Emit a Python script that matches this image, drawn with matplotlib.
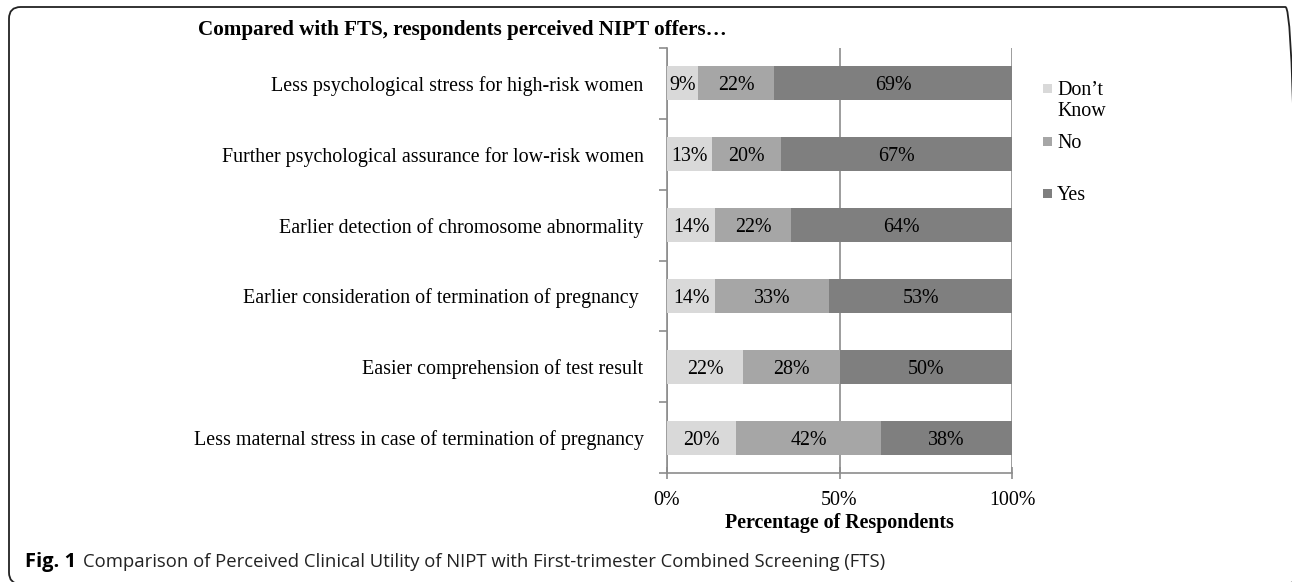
import matplotlib.pyplot as plt
from matplotlib.patches import FancyBboxPatch, Rectangle
import numpy as np

# datos (de arriba hacia abajo)
categorias = [
    "Less psychological stress for high-risk women",
    "Further psychological assurance for low-risk women",
    "Earlier detection of chromosome abnormality",
    "Earlier consideration of termination of pregnancy ",
    "Easier comprehension of test result",
    "Less maternal stress in case of termination of pregnancy",
]
no_sabe = [9, 13, 14, 14, 22, 20]
no = [22, 20, 22, 33, 28, 42]
si = [69, 67, 64, 53, 50, 38]

series = ["Don\u2019t\nKnow", "No", "Yes"]
colores = ["#d9d9d9", "#a6a6a6", "#7f7f7f"]

plt.rcParams['font.family'] = ['Liberation Serif', 'DejaVu Serif']
fs = 14.4
W, H = 1292, 582

fig = plt.figure(figsize=(12.92, 5.82), dpi=100)
ax = fig.add_axes([667/W, 1-473/H, 345/W, 425/H])

y = np.arange(len(categorias))
izq = np.zeros(len(categorias))
for vals, nombre, c in zip([no_sabe, no, si], series, colores):
    vals = np.array(vals)
    ax.barh(y, vals, left=izq, height=0.48, color=c, zorder=3)
    for yi, l, v in zip(y, izq, vals):
        ax.text(l + v/2, yi, f"{v}%", ha='center', va='center_baseline', fontsize=fs, color='black', zorder=4)
    izq = izq + vals

ax.set_ylim(len(categorias) - 0.5, -0.5)
ax.set_xlim(0, 100)
ax.set_yticks(y)
ax.set_yticklabels(categorias, fontsize=fs)
ax.set_yticks(np.arange(-0.5, len(categorias), 1), minor=True)
ax.tick_params(axis='y', which='major', length=0, pad=17)
ax.tick_params(axis='y', which='minor', length=6, color='#8c8c8c', width=1.2)
ax.set_xticks([0, 50, 100])
ax.set_xticklabels(["0%", "50%", "100%"], fontsize=fs)
ax.tick_params(axis='x', length=8, direction='inout', color='#8c8c8c', width=1.2, pad=9)
ax.grid(axis='x', color='#8c8c8c', linewidth=1.2, zorder=0)
for s in ['top', 'right']:
    ax.spines[s].set_visible(False)
for s in ['left', 'bottom']:
    ax.spines[s].set_color('#8c8c8c')
    ax.spines[s].set_linewidth(1.2)
ax.set_xlabel("Percentage of Respondents", fontsize=fs, fontweight='bold', labelpad=2)

# leyenda
pos_leyenda = [88, 141, 193]
for nombre, c, py in zip(series, colores, pos_leyenda):
    fig.patches.append(Rectangle((1043/W, 1-(py+5)/H), 9/W, 9/H, transform=fig.transFigure,
                                 facecolor=c, edgecolor='none'))
    fig.text(1057/W, 1-(py-7)/H, nombre, fontsize=fs, va='top', ha='left', linespacing=1.15)

fig.text(198/W, 1-30/H, "Compared with FTS, respondents perceived NIPT offers\u2026",
         fontsize=15.2, fontweight='bold', va='center', ha='left')

fig.text(25/W, 1-562/H, "Fig. 1", fontsize=14.5, fontweight='bold',
         family=['Open Sans', 'DejaVu Sans'], va='center', ha='left')
fig.text(83/W, 1-562/H,
         "Comparison of Perceived Clinical Utility of NIPT with First-trimester Combined Screening (FTS)",
         fontsize=13.3, family=['Open Sans', 'DejaVu Sans'], color='#222222', va='center', ha='left')

caja = FancyBboxPatch((9/W, -2/H), 1288/W, 577/H,
                      boxstyle="round,pad=0,rounding_size=0.009",
                      transform=fig.transFigure, fill=False, edgecolor='#222222', linewidth=1.3,
                      mutation_aspect=W/H)
fig.patches.append(caja)

fig.savefig("out.png", dpi=100)
